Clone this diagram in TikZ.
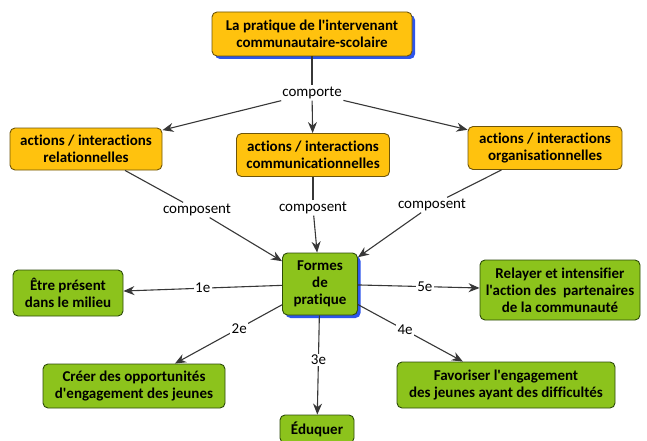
\documentclass[tikz,border=0pt]{standalone}
\usepackage{fontspec}
\setmainfont{Carlito}[Ligatures={TeXOff,NoCommon}]
\usetikzlibrary{shadows,arrows.meta}

\definecolor{gold}{RGB}{255,194,14}
\definecolor{golddark}{RGB}{110,85,10}
\definecolor{leaf}{RGB}{140,195,28}
\definecolor{leafdark}{RGB}{45,75,10}
\definecolor{shadowblue}{RGB}{45,85,235}
\definecolor{linegray}{RGB}{55,55,55}

\tikzset{
	box/.style={draw,rounded corners=5pt,align=center,inner sep=2pt,line width=0.9pt,
		font=\bfseries\fontsize{15}{17}\selectfont},
	goldbox/.style={box,draw=golddark,fill=gold},
	leafbox/.style={box,draw=leafdark,fill=leaf},
	blueshadow/.style={drop shadow={fill=shadowblue,opacity=1,shadow xshift=3pt,shadow yshift=-3pt}},
	lbl/.style={fill=white,inner sep=1.5pt,font=\fontsize{15}{17}\selectfont},
	link/.style={draw=linegray,line width=1.1pt},
	arr/.style={link,-{Stealth[length=11pt,width=9pt]}}
}

\begin{document}
\begin{tikzpicture}[x=1pt,y=-1pt]
	\useasboundingbox (0,0) rectangle (647,441);

	% boites
	\node[goldbox,blueshadow,minimum width=200pt,minimum height=44pt] (top) at (312,34) {La pratique de l'intervenant\\communautaire-scolaire};
	\node[goldbox,minimum width=152pt,minimum height=42pt] (rel) at (86,149) {actions / interactions\\relationnelles};
	\node[goldbox,minimum width=153pt,minimum height=43pt] (comm) at (313,155) {actions / interactions\\communicationnelles};
	\node[goldbox,minimum width=154pt,minimum height=43pt] (org) at (545,148) {actions / interactions\\organisationnelles};

	\node[leafbox,blueshadow,minimum width=75pt,minimum height=62pt] (formes) at (320,284) {Formes\\de\\pratique};
	\node[leafbox,minimum width=110pt,minimum height=46pt] (etre) at (68,293) {Être présent\\dans le milieu};
	\node[leafbox,minimum width=160pt,minimum height=60pt] (relayer) at (560,290) {Relayer et intensifier\\l'action des\ \ partenaires\\de la communauté};
	\node[leafbox,minimum width=182pt,minimum height=44pt] (creer) at (134,386) {Créer des opportunités\\d'engagement des jeunes};
	\node[leafbox,minimum width=218pt,minimum height=46pt] (favoriser) at (506,385) {Favoriser l'engagement\\des jeunes ayant des difficultés};
	\node[leafbox,minimum width=74pt,minimum height=28pt] (eduquer) at (317,429) {Éduquer};

	% etiquettes
	\node[lbl] (comporte) at (312,93) {comporte};
	\node[lbl] (comp1) at (197,210) {composent};
	\node[lbl] (comp2) at (313,208) {composent};
	\node[lbl] (comp3) at (432,205) {composent};

	% liens
	\draw[link] (top) -- (comporte);
	\draw[arr] (comporte) -- (rel);
	\draw[arr] (comporte) -- (comm);
	\draw[arr] (comporte) -- (org);

	\draw[link] (rel) -- (comp1);
	\draw[link] (comm) -- (comp2);
	\draw[link] (org) -- (comp3);
	\draw[arr] (comp1) -- (formes);
	\draw[arr] (comp2) -- (formes);
	\draw[arr] (comp3) -- (formes);

	\draw[arr] (formes) -- node[lbl] (l1) {1e} (etre);
	\draw[arr] (formes) -- node[lbl,pos=0.4] (l2) {2e} (creer);
	\draw[arr] (formes) -- node[lbl,pos=0.45] (l3) {3e} (eduquer);
	\draw[arr] (formes) -- node[lbl,pos=0.45] (l4) {4e} (favoriser);
	\draw[arr] (formes) -- node[lbl,pos=0.55] (l5) {5e} (relayer);
\end{tikzpicture}
\end{document}
